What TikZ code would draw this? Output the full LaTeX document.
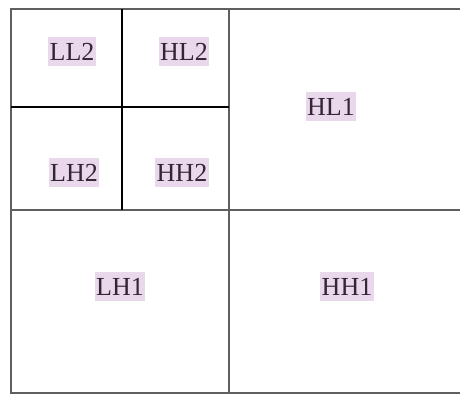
\documentclass[tikz,border=0pt]{standalone}
\usepackage{fontspec}
\setmainfont{Liberation Serif}
\usetikzlibrary{positioning}
\definecolor{bandbg}{RGB}{233,216,236}
\definecolor{bandtext}{RGB}{52,36,52}
\definecolor{gridgray}{RGB}{95,95,95}
\tikzset{
  bandlabel/.style={fill=bandbg, text=bandtext, inner xsep=1.5pt, inner ysep=0pt, text height=23pt, text depth=6pt, font=\fontsize{26}{26}\selectfont},
  outerline/.style={draw=gridgray, line width=1.6pt},
  innerline/.style={draw=black, line width=1.4pt}
}

\begin{document}
\begin{tikzpicture}[x=1pt,y=1pt]
\useasboundingbox (0,0) rectangle (460,395);
% corners and split points
\coordinate (tl) at (11,386);
\coordinate (tr) at (460,386);
\coordinate (bl) at (11,2);
\coordinate (br) at (460,2);
\coordinate (mt) at (229,386);
\coordinate (mb) at (229,2);
\coordinate (ml) at (11,185);
\coordinate (mr) at (460,185);
\coordinate (qt) at (122,386);
\coordinate (qb) at (122,185);
\coordinate (ql) at (11,288);
\coordinate (qr) at (229,288);
\draw[outerline] (tr) -- (tl) -- (bl) -- (br);
\draw[outerline] (mt) -- (mb);
\draw[outerline] (ml) -- (mr);
\draw[innerline] (qt) -- (qb);
\draw[innerline] (ql) -- (qr);
% sub-band labels
\node[bandlabel] (ll2) at (72,343) {LL2};
\node[bandlabel] (hl2) at (184,343) {HL2};
\node[bandlabel] (lh2) at (74,222) {LH2};
\node[bandlabel] (hh2) at (182,222) {HH2};
\node[bandlabel] (hl1) at (331,288) {HL1};
\node[bandlabel] (lh1) at (120,108) {LH1};
\node[bandlabel] (hh1) at (347,108) {HH1};
\end{tikzpicture}
\end{document}
